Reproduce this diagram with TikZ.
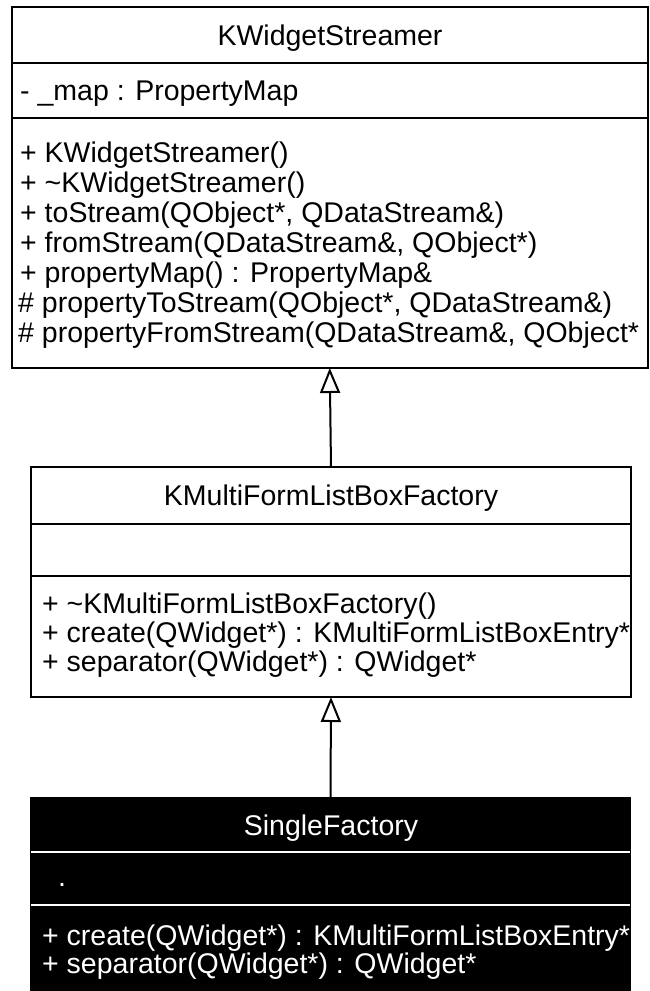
\documentclass[tikz,border=0pt]{standalone}
\usepackage{fontspec}
\setmainfont{Liberation Sans}
\usetikzlibrary{arrows.meta}
\begin{document}
\begin{tikzpicture}[x=1pt,y=-1pt,
  classbox/.style={draw=black, line width=2pt, inner sep=0pt, outer sep=0pt, anchor=north west},
  sep/.style={line width=2pt},
  member/.style={anchor=base west, inner sep=0pt, font=\fontsize{28.5}{30}\selectfont},
  title/.style={anchor=base, inner sep=0pt, font=\fontsize{28.5}{30}\selectfont},
  inherit/.style={line width=2pt, -{Triangle[open, length=25pt, width=20pt, line width=2pt]}}]
\useasboundingbox (0,0) rectangle (649,991);

% KWidgetStreamer
\node (ws) [classbox, minimum width=635.5pt, minimum height=361pt] at (12,7) {};
\draw[sep] (12,63) -- (647.5,63);
\draw[sep] (12,118) -- (647.5,118);
\node (wsT) [title] at (330,45) {KWidgetStreamer};
\node (wsA) [member] at (20,100) {- \_map : PropertyMap};
\node (wsM1) [member] at (20,162) {+ KWidgetStreamer()};
\node (wsM2) [member] at (20,192) {+ \textasciitilde KWidgetStreamer()};
\node (wsM3) [member] at (20,222) {+ toStream(QObject*, QDataStream\&)};
\node (wsM4) [member] at (20,252) {+ fromStream(QDataStream\&, QObject*)};
\node (wsM5) [member] at (20,282) {+ propertyMap() : PropertyMap\&};
\node (wsM6) [member] at (18,312) {\# propertyToStream(QObject*, QDataStream\&)};
\node (wsM7) [member] at (18,342) {\# propertyFromStream(QDataStream\&, QObject*};

% KMultiFormListBoxFactory
\node (mf) [classbox, minimum width=600pt, minimum height=230pt] at (31,467) {};
\draw[sep] (31,524) -- (631,524);
\draw[sep] (31,576) -- (631,576);
\node (mfT) [title] at (331,505) {KMultiFormListBoxFactory};
\node (mfM1) [member] at (42,613) {+ \textasciitilde KMultiFormListBoxFactory()};
\node (mfM2) [member] at (42,642) {+ create(QWidget*) : KMultiFormListBoxEntry*};
\node (mfM3) [member] at (42,671) {+ separator(QWidget*) : QWidget*};

% SingleFactory
\node (sf) [classbox, fill=black, minimum width=599pt, minimum height=200pt] at (31,798) {};
\draw[sep, white] (31,852) -- (630,852);
\draw[sep, white] (31,905) -- (630,905);
\node (sfT) [title, text=white] at (331,835) {SingleFactory};
\node (sfA) [member, text=white] at (58,886) {.};
\node (sfM1) [member, text=white] at (42,945) {+ create(QWidget*) : KMultiFormListBoxEntry*};
\node (sfM2) [member, text=white] at (42,973) {+ separator(QWidget*) : QWidget*};

% generalisation arrows
\draw[inherit] (mf.north) -- (ws.south);
\draw[inherit] (sf.north) -- (mf.south);
\end{tikzpicture}
\end{document}
